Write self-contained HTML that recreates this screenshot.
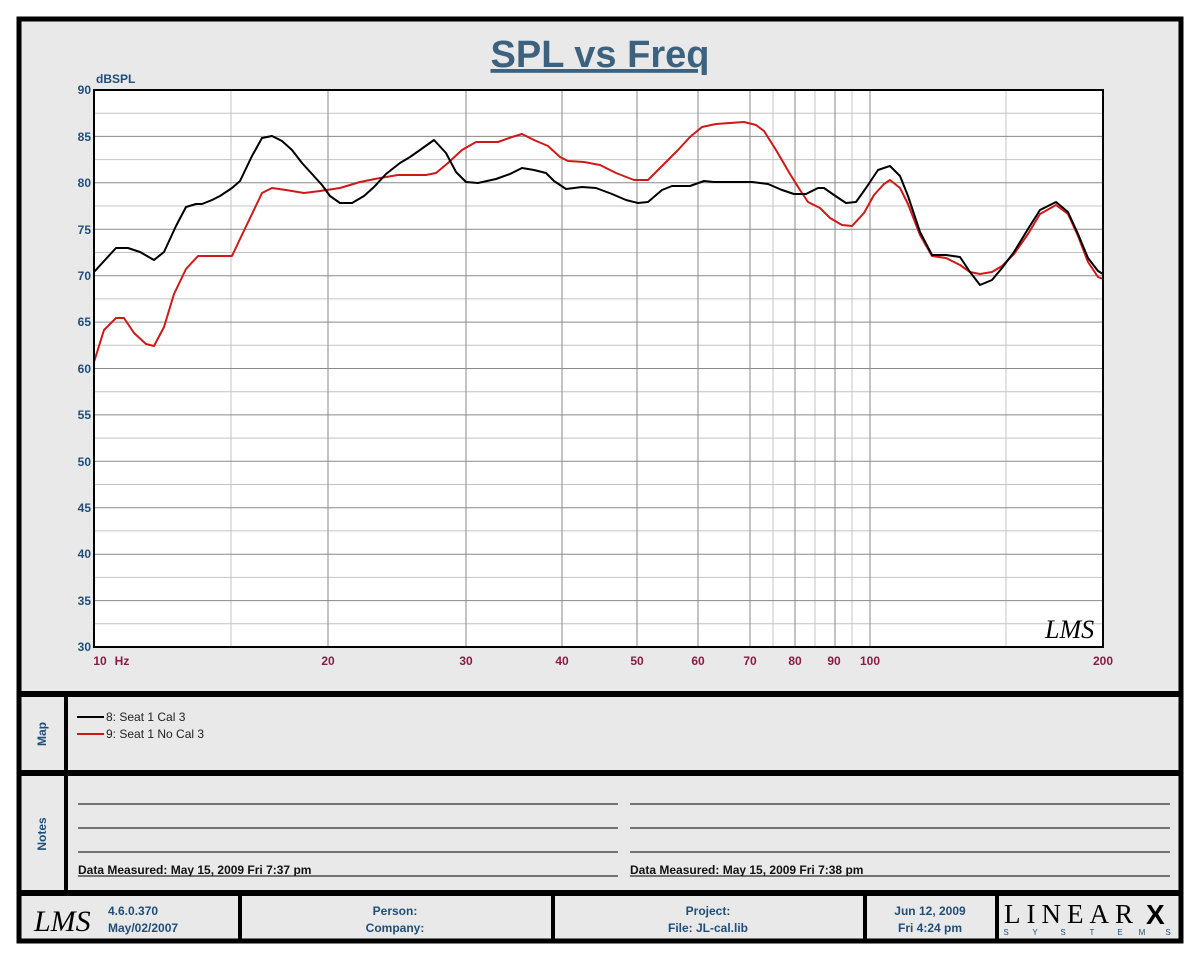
<!DOCTYPE html>
<html><head><meta charset="utf-8"><style>
html,body{margin:0;padding:0;background:#fff;}
svg{display:block;font-family:"Liberation Sans",Arial,sans-serif;}
</style></head><body>
<svg width="1200" height="960" viewBox="0 0 1200 960" xmlns="http://www.w3.org/2000/svg">
<rect x="0" y="0" width="1200" height="960" fill="#fff"/>
<rect x="19" y="19" width="1162" height="922" fill="#e9e9e9" stroke="#000" stroke-width="5"/>
<rect x="17" y="691" width="1166" height="6" fill="#000"/>
<rect x="17" y="770" width="1166" height="6" fill="#000"/>
<rect x="17" y="890" width="1166" height="6" fill="#000"/>
<rect x="64" y="694" width="4" height="198" fill="#000"/>
<rect x="238" y="894" width="4" height="48" fill="#000"/>
<rect x="551" y="894" width="4" height="48" fill="#000"/>
<rect x="863" y="894" width="4" height="48" fill="#000"/>
<rect x="995" y="894" width="4" height="48" fill="#000"/>

<text x="600" y="67" text-anchor="middle" font-size="38" font-weight="bold" fill="#3d6280" text-decoration="underline">SPL vs Freq</text>

<rect x="94" y="90" width="1009" height="557" fill="#fff"/>
<g stroke="#c4c4c4" stroke-width="1">
<line x1="94" y1="113.2" x2="1103" y2="113.2"/><line x1="94" y1="159.6" x2="1103" y2="159.6"/>
<line x1="94" y1="206" x2="1103" y2="206"/><line x1="94" y1="252.5" x2="1103" y2="252.5"/>
<line x1="94" y1="298.9" x2="1103" y2="298.9"/><line x1="94" y1="345.3" x2="1103" y2="345.3"/>
<line x1="94" y1="391.7" x2="1103" y2="391.7"/><line x1="94" y1="438.1" x2="1103" y2="438.1"/>
<line x1="94" y1="484.5" x2="1103" y2="484.5"/><line x1="94" y1="530.9" x2="1103" y2="530.9"/>
<line x1="94" y1="577.4" x2="1103" y2="577.4"/><line x1="94" y1="623.8" x2="1103" y2="623.8"/>
<line x1="231" y1="90" x2="231" y2="647"/><line x1="773" y1="90" x2="773" y2="647"/>
<line x1="815" y1="90" x2="815" y2="647"/><line x1="852" y1="90" x2="852" y2="647"/>
<line x1="1006" y1="90" x2="1006" y2="647"/>
</g>
<g stroke="#8a8a8a" stroke-width="1">
<line x1="94" y1="136.4" x2="1103" y2="136.4"/><line x1="94" y1="182.8" x2="1103" y2="182.8"/>
<line x1="94" y1="229.3" x2="1103" y2="229.3"/><line x1="94" y1="275.7" x2="1103" y2="275.7"/>
<line x1="94" y1="322.1" x2="1103" y2="322.1"/><line x1="94" y1="368.5" x2="1103" y2="368.5"/>
<line x1="94" y1="414.9" x2="1103" y2="414.9"/><line x1="94" y1="461.3" x2="1103" y2="461.3"/>
<line x1="94" y1="507.7" x2="1103" y2="507.7"/><line x1="94" y1="554.2" x2="1103" y2="554.2"/>
<line x1="94" y1="600.6" x2="1103" y2="600.6"/>
<line x1="328" y1="90" x2="328" y2="647"/><line x1="466" y1="90" x2="466" y2="647"/>
<line x1="562" y1="90" x2="562" y2="647"/><line x1="637" y1="90" x2="637" y2="647"/>
<line x1="698" y1="90" x2="698" y2="647"/><line x1="750" y1="90" x2="750" y2="647"/>
<line x1="795" y1="90" x2="795" y2="647"/><line x1="835" y1="90" x2="835" y2="647"/>
<line x1="870" y1="90" x2="870" y2="647"/>
</g>
<polyline fill="none" stroke="#d01818" stroke-width="2" stroke-linejoin="round" points="94,362 104,330 116,318 124,318 134,333 146,344 154,346 164,327 174,294 186,269 198,256 210,256 224,256 232,256 240,239 252,214 262,193 272,188 286,190 304,193 320,191 340,188 360,182 380,178 398,175 410,175 426,175 436,173 448,163 462,150 476,142 498,142 512,137 522,134 534,140 548,146 560,157 568,161 584,162 600,165 616,173 634,180 648,180 662,166 678,150 690,137 702,127 716,124 730,123 744,122 756,125 764,131 776,150 790,174 800,190 808,202 820,208 830,218 842,225 852,226 864,213 874,195 884,184 890,180 900,188 908,204 920,235 932,256 946,258 960,265 970,272 980,274 992,272 1002,266 1014,254 1028,234 1040,214 1056,205 1068,214 1078,236 1088,262 1098,277 1103,279"/>
<polyline fill="none" stroke="#000" stroke-width="2" stroke-linejoin="round" points="94,272 116,248 128,248 140,252 154,260 164,252 176,226 186,207 196,204 202,204 212,200 220,196 232,188 240,181 252,156 262,138 272,136 282,141 292,150 302,163 312,174 322,185 330,196 340,203 352,203 364,196 374,187 386,174 400,163 410,157 420,150 434,140 446,153 456,172 466,182 478,183 496,179 510,174 522,168 534,170 546,173 554,181 566,189 582,187 596,188 612,194 626,200 638,203 648,202 662,190 672,186 690,186 704,181 714,182 726,182 738,182 752,182 768,184 782,190 794,194 806,194 818,188 824,188 834,195 846,203 856,202 866,188 878,170 890,166 900,176 908,196 920,232 932,255 946,255 960,257 970,272 980,285 992,280 1002,268 1014,252 1028,229 1040,210 1056,202 1068,212 1078,234 1088,258 1098,271 1103,274"/>
<rect x="94" y="90" width="1009" height="557" fill="none" stroke="#000" stroke-width="2"/>
<text x="1045" y="638" font-size="26" font-style="italic" font-family="'Liberation Serif',serif" fill="#000">LMS</text>

<g font-size="12" font-weight="bold" fill="#1f4e79" text-anchor="end">
<text x="91" y="94">90</text><text x="91" y="141">85</text><text x="91" y="187">80</text>
<text x="91" y="234">75</text><text x="91" y="280">70</text><text x="91" y="326">65</text>
<text x="91" y="373">60</text><text x="91" y="419">55</text><text x="91" y="466">50</text>
<text x="91" y="512">45</text><text x="91" y="558">40</text><text x="91" y="605">35</text>
<text x="91" y="651">30</text>
</g>
<text x="96" y="83" font-size="12" font-weight="bold" fill="#1f4e79">dBSPL</text>
<g font-size="12" font-weight="bold" fill="#8b1a45" text-anchor="middle">
<text x="100" y="665">10</text><text x="122" y="665">Hz</text>
<text x="328" y="665">20</text><text x="466" y="665">30</text><text x="562" y="665">40</text>
<text x="637" y="665">50</text><text x="698" y="665">60</text><text x="750" y="665">70</text>
<text x="795" y="665">80</text><text x="834" y="665">90</text><text x="870" y="665">100</text>
<text x="1103" y="665">200</text>
</g>

<text transform="translate(46,734) rotate(-90)" text-anchor="middle" font-size="12" font-weight="bold" fill="#1f4e79">Map</text>
<text transform="translate(46,834) rotate(-90)" text-anchor="middle" font-size="12" font-weight="bold" fill="#1f4e79">Notes</text>

<line x1="77" y1="717" x2="104" y2="717" stroke="#000" stroke-width="2"/>
<line x1="77" y1="734" x2="104" y2="734" stroke="#d01818" stroke-width="2"/>
<text x="106" y="721" font-size="12" fill="#222">8: Seat 1 Cal 3</text>
<text x="106" y="738" font-size="12" fill="#222">9: Seat 1 No Cal 3</text>

<g stroke="#000" stroke-width="1">
<line x1="78" y1="804" x2="618" y2="804"/><line x1="78" y1="828" x2="618" y2="828"/>
<line x1="78" y1="852" x2="618" y2="852"/><line x1="78" y1="876" x2="618" y2="876"/>
<line x1="630" y1="804" x2="1170" y2="804"/><line x1="630" y1="828" x2="1170" y2="828"/>
<line x1="630" y1="852" x2="1170" y2="852"/><line x1="630" y1="876" x2="1170" y2="876"/>
</g>
<text x="78" y="874" font-size="12" font-weight="bold" fill="#111">Data Measured: May 15, 2009  Fri  7:37 pm</text>
<text x="630" y="874" font-size="12" font-weight="bold" fill="#111">Data Measured: May 15, 2009  Fri  7:38 pm</text>

<text x="34" y="931" font-size="30" font-style="italic" font-family="'Liberation Serif',serif" fill="#000">LMS</text>
<g font-size="12" font-weight="bold" fill="#1f4e79">
<text x="108" y="915">4.6.0.370</text><text x="108" y="932">May/02/2007</text>
<text x="395" y="915" text-anchor="middle">Person:</text><text x="395" y="932" text-anchor="middle">Company:</text>
<text x="708" y="915" text-anchor="middle">Project:</text><text x="708" y="932" text-anchor="middle">File: JL-cal.lib</text>
<text x="930" y="915" text-anchor="middle">Jun 12, 2009</text><text x="930" y="932" text-anchor="middle">Fri  4:24 pm</text>
</g>
<text x="1004" y="923" font-size="27" font-family="'Liberation Serif',serif" fill="#000" letter-spacing="6">LINEAR</text>
<text x="1146" y="924" font-size="28" font-weight="bold" fill="#000">X</text>
<g font-size="8" fill="#1f4e79" text-anchor="middle">
<text x="1006" y="935">S</text><text x="1035" y="935">Y</text><text x="1063" y="935">S</text>
<text x="1092" y="935">T</text><text x="1120" y="935">E</text><text x="1142" y="935">M</text><text x="1168" y="935">S</text>
</g>
</svg>
</body></html>
